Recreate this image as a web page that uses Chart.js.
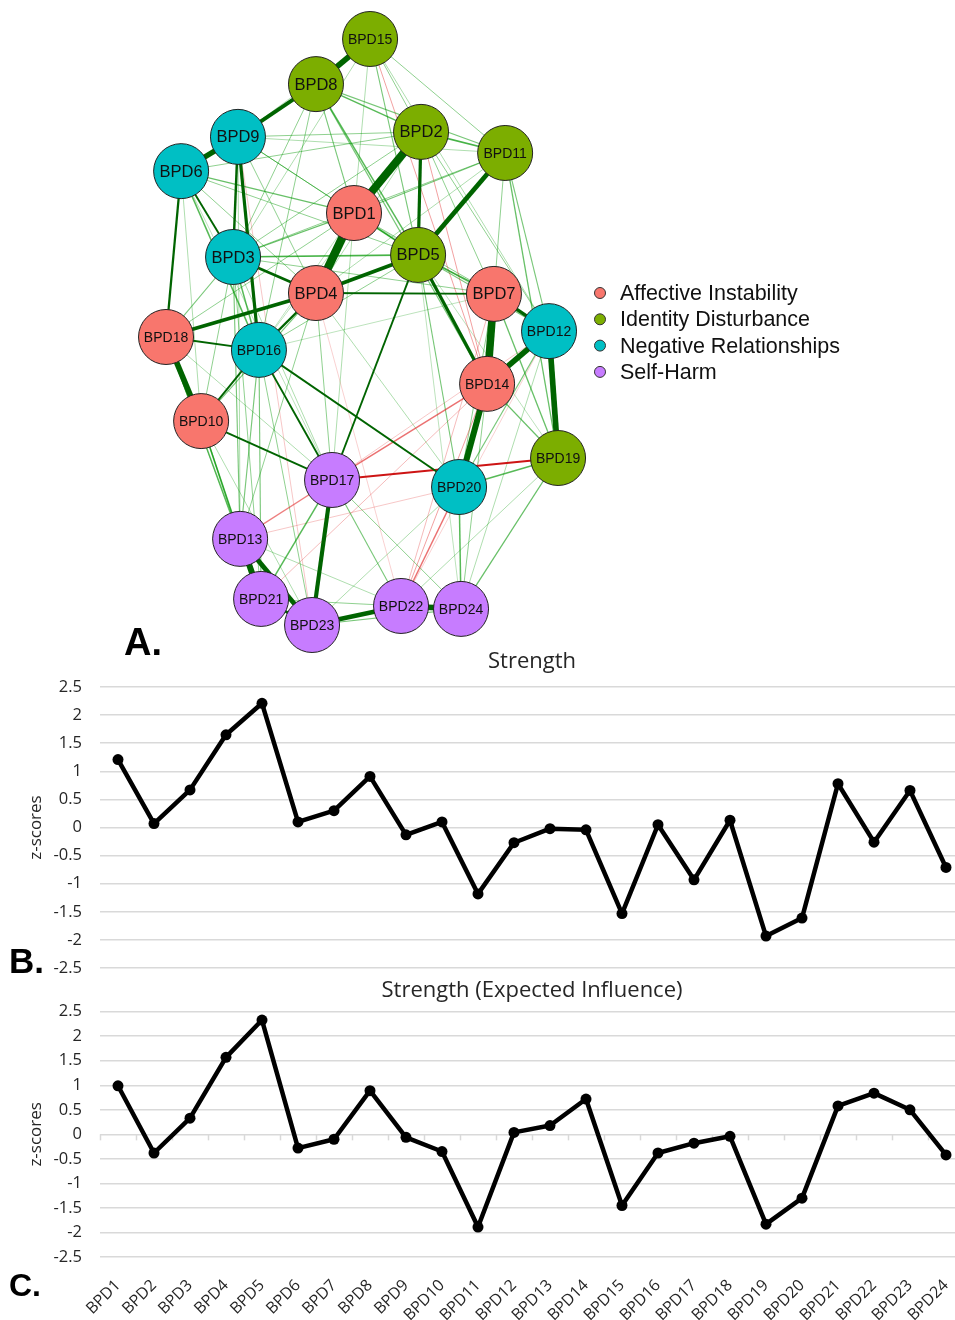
<!DOCTYPE html>
<html>
<head>
<meta charset="utf-8">
<script src="https://cdn.jsdelivr.net/npm/chart.js@4.4.1/dist/chart.umd.min.js"></script>
<style>
  html, body { margin: 0; padding: 0; background: #fff; overflow: hidden; }
  #page { position: relative; width: 955px; height: 1320px; overflow: hidden; background: #fff; }
  #page canvas { position: absolute; left: 0; }
  .panel { position: absolute; font-family: "Liberation Sans", Arial, sans-serif; font-weight: bold; color: #000; line-height: 1; }
</style>
</head>
<body>
<div id="page">
  <canvas id="strength" width="965" height="351" style="top:645px"></canvas>
  <canvas id="ei" width="965" height="345" style="top:975px"></canvas>
  <canvas id="net" width="955" height="660" style="top:0"></canvas>
  <div class="panel" style="left:124px;top:623px;font-size:38px">A.</div>
  <div class="panel" style="left:9px;top:943px;font-size:35px">B.</div>
  <div class="panel" style="left:9px;top:1269px;font-size:32px">C.</div>
</div>
<script>
// ---------- Symptom network ----------
const nodeNames = ['BPD1','BPD2','BPD3','BPD4','BPD5','BPD6','BPD7','BPD8','BPD9','BPD10','BPD11','BPD12',
                   'BPD13','BPD14','BPD15','BPD16','BPD17','BPD18','BPD19','BPD20','BPD21','BPD22','BPD23','BPD24'];
// 0 = Affective Instability, 1 = Identity Disturbance, 2 = Negative Relationships, 3 = Self-Harm
const nodeGroup = [0,1,2,0,1,2,0,1,2,0,1,2,3,0,1,2,3,0,1,2,3,3,3,3];
const groupNames = ['Affective Instability','Identity Disturbance','Negative Relationships','Self-Harm'];

// spring layout, normalised to [-1, 1]
const layoutX = [-0.041, 0.301,-0.658,-0.235, 0.286,-0.923, 0.673,-0.235,-0.633,-0.821, 0.730, 0.954,
                 -0.622, 0.638, 0.041,-0.526,-0.153,-1.000, 1.000, 0.495,-0.515, 0.199,-0.255, 0.505];
const layoutY = [ 0.406, 0.683, 0.256, 0.133, 0.263, 0.549, 0.130, 0.846, 0.666,-0.304, 0.611, 0.003,
                 -0.706,-0.177, 1.000,-0.061,-0.505,-0.017,-0.430,-0.529,-0.911,-0.935,-1.000,-0.945];

// partial-correlation edges: [node, node, weight] (node numbers as in the labels)
const edgeList = [
  [15,8,0.30],[8,9,0.20],[9,6,0.28],[2,1,0.42],[1,4,0.45],[2,5,0.17],[11,5,0.25],[5,4,0.20],
  [5,14,0.17],[7,14,0.40],[7,12,0.18],[12,14,0.30],[12,19,0.30],[14,20,0.32],[9,16,0.17],[9,3,0.13],
  [6,18,0.12],[18,4,0.20],[18,10,0.30],[18,16,0.10],[3,4,0.14],[4,16,0.12],[4,7,0.10],[3,5,0.09],
  [13,21,0.32],[13,23,0.25],[23,22,0.25],[22,24,0.30],[17,23,0.22],[17,5,0.10],[17,16,0.10],[17,10,0.10],
  [16,20,0.10],[20,24,0.08],[17,19,-0.10],[17,14,-0.08],[17,13,-0.07],[20,19,0.08],[22,20,-0.08],[22,14,-0.05],
  [15,14,-0.05],[9,23,-0.03],[14,21,-0.04],[12,17,-0.03],[7,22,-0.04],[2,14,-0.05],[21,23,0.15],
  [8,5,0.08],[8,1,0.06],[8,2,0.08],[8,11,0.06],[8,3,0.05],[8,16,0.05],[8,14,0.06],[15,5,0.06],
  [15,11,0.05],[15,1,0.04],[15,3,0.04],[15,12,0.04],[2,11,0.09],[2,6,0.05],[2,3,0.05],[2,12,0.05],
  [2,7,0.05],[2,9,0.05],[11,1,0.06],[11,3,0.05],[11,19,0.07],[11,12,0.06],[11,7,0.05],[11,4,0.04],
  [11,9,0.04],[6,1,0.07],[6,3,0.10],[6,16,0.08],[6,5,0.05],[6,4,0.05],[9,1,0.05],[9,4,0.05],
  [9,5,0.04],[1,5,0.09],[1,3,0.07],[1,7,0.05],[1,18,0.05],[1,17,0.04],[5,7,0.09],[5,12,0.06],
  [5,16,0.05],[5,20,0.06],[3,16,0.08],[3,18,0.06],[3,10,0.05],[3,13,0.06],[3,21,0.05],[3,7,0.05],
  [4,17,0.05],[4,13,0.05],[4,10,0.06],[4,20,0.04],[7,19,0.07],[7,20,0.05],[12,20,0.06],[14,19,0.07],
  [14,24,0.05],[16,10,0.10],[16,13,0.06],[16,21,0.06],[16,23,0.05],[18,13,0.07],[18,21,0.05],[10,13,0.08],
  [10,21,0.07],[17,21,0.08],[17,22,0.06],[17,24,0.05],[13,22,0.04],[21,22,0.05],[23,24,0.06],[20,23,0.04],
  [19,24,0.07],[19,22,0.04],[12,24,0.04],[6,10,0.04],[9,13,0.04],[15,2,0.05],[15,9,0.03],[6,8,0.04],
  [2,4,0.04],[2,16,0.03],[5,9,0.03],[5,24,0.03],[7,16,0.03],[12,1,0.03],[19,5,0.03],[6,17,0.03],
  [18,17,0.04],[10,23,0.04],[3,17,0.04],[1,16,0.03],[12,22,-0.02],[13,20,-0.03],[4,22,-0.02]
];

const groupColors = ['#F8766D','#7CAE00','#00BFC4','#C77CFF'];
const NET_FONT = "'Liberation Sans', Arial, sans-serif";

function edgeColour(w) {
  const a = Math.abs(w);
  if (a >= 0.1) return w > 0 ? 'rgb(0,100,0)' : 'rgb(205,20,20)';
  const alpha = Math.min(1, 0.14 + a * 6.5);
  return w > 0 ? `rgba(0,150,0,${alpha})` : `rgba(225,40,40,${alpha})`;
}
function edgeWidth(w) {
  return Math.max(0.8, Math.abs(w) / 0.45 * 8.5);
}

const nodePoints = nodeNames.map((_, i) => ({ x: layoutX[i], y: layoutY[i] }));
const sortedEdges = edgeList.slice().sort((a, b) => Math.abs(b[2]) - Math.abs(a[2]));
const edgeDatasets = sortedEdges.map((e, k) => ({
  data: [nodePoints[e[0] - 1], nodePoints[e[1] - 1]],
  showLine: true,
  borderColor: edgeColour(e[2]),
  borderWidth: edgeWidth(e[2]),
  pointRadius: 0,
  clip: false,
  order: k + 1
}));

const nodeDataset = {
  data: nodePoints,
  showLine: false,
  pointRadius: 27.5,
  pointHoverRadius: 27.5,
  pointBackgroundColor: nodeGroup.map(g => groupColors[g]),
  pointBorderColor: '#222',
  pointBorderWidth: 1,
  clip: false,
  order: 0
};

const nodeLabels = {
  id: 'nodeLabels',
  afterDatasetsDraw(chart) {
    const { ctx, scales: { x, y } } = chart;
    ctx.save();
    ctx.fillStyle = '#111';
    ctx.textAlign = 'center';
    ctx.textBaseline = 'middle';
    nodeNames.forEach((name, i) => {
      const size = name.length > 4 ? 14 : 16.5;
      ctx.font = `${size}px ${NET_FONT}`;
      ctx.fillText(name, x.getPixelForValue(layoutX[i]), y.getPixelForValue(layoutY[i]) + 1);
    });
    ctx.restore();
  }
};

const groupLegend = {
  id: 'groupLegend',
  afterDraw(chart) {
    const { ctx } = chart;
    ctx.save();
    ctx.textBaseline = 'middle';
    ctx.font = `21.5px ${NET_FONT}`;
    groupNames.forEach((name, g) => {
      const cy = 293 + g * 26.3;
      ctx.beginPath();
      ctx.arc(600, cy, 5.5, 0, Math.PI * 2);
      ctx.fillStyle = groupColors[g];
      ctx.fill();
      ctx.lineWidth = 1;
      ctx.strokeStyle = '#333';
      ctx.stroke();
      ctx.fillStyle = '#111';
      ctx.fillText(name, 620, cy + 1);
    });
    ctx.restore();
  }
};

new Chart(document.getElementById('net'), {
  type: 'scatter',
  data: { datasets: [nodeDataset, ...edgeDatasets] },
  options: {
    responsive: false,
    animation: false,
    devicePixelRatio: 1,
    events: [],
    layout: { padding: 0, autoPadding: false },
    scales: {
      x: { type: 'linear', display: false, min: -1.847, max: 3.025 },
      y: { type: 'linear', display: false, min: -1.1194, max: 1.1331 }
    },
    plugins: { legend: { display: false }, tooltip: { enabled: false } }
  },
  plugins: [nodeLabels, groupLegend]
});

// ---------- Centrality z-scores ----------
const itemLabels = nodeNames;
const strengthZ = [1.21, 0.07, 0.67, 1.65, 2.21, 0.10, 0.30, 0.91, -0.13, 0.10, -1.18, -0.27,
                   -0.02, -0.04, -1.53, 0.05, -0.93, 0.13, -1.93, -1.61, 0.78, -0.26, 0.66, -0.71];
const expectedInfluenceZ = [0.99, -0.38, 0.33, 1.57, 2.33, -0.28, -0.10, 0.89, -0.06, -0.35, -1.89, 0.04,
                            0.18, 0.72, -1.45, -0.38, -0.18, -0.04, -1.83, -1.30, 0.58, 0.84, 0.50, -0.42];
const zTicks = [2.5, 2, 1.5, 1, 0.5, 0, -0.5, -1, -1.5, -2, -2.5];

const CHART_FONT = "'Open Sans', sans-serif";
const TEXT = '#262626';
const GRID = '#d9d9d9';

// small category tick marks hanging below the zero line
const zeroLineTicks = {
  id: 'zeroLineTicks',
  beforeDatasetsDraw(chart) {
    const { ctx, scales: { x, y } } = chart;
    const y0 = y.getPixelForValue(0);
    ctx.save();
    ctx.strokeStyle = GRID;
    ctx.lineWidth = 1.5;
    for (let i = 0; i <= chart.data.labels.length; i++) {
      const px = Math.round(x.getPixelForValue(i - 0.5)) + 0.5;
      ctx.beginPath();
      ctx.moveTo(px, y0);
      ctx.lineTo(px, y0 + 6);
      ctx.stroke();
    }
    ctx.restore();
  }
};

function zChart(id, title, values, showX, titlePad) {
  return new Chart(document.getElementById(id), {
    type: 'line',
    data: {
      labels: itemLabels,
      datasets: [{
        data: values,
        borderColor: '#000',
        backgroundColor: '#000',
        borderWidth: 4.5,
        borderJoinStyle: 'round',
        tension: 0,
        pointRadius: 5.5,
        pointBackgroundColor: '#000',
        pointBorderWidth: 0,
        clip: false
      }]
    },
    options: {
      responsive: false,
      animation: false,
      devicePixelRatio: 1,
      events: [],
      layout: { padding: { left: 0, right: 1, top: 0, bottom: showX ? 0 : 12 }, autoPadding: false },
      plugins: {
        legend: { display: false },
        tooltip: { enabled: false },
        title: {
          display: true,
          text: title,
          fullSize: false,
          color: TEXT,
          font: { family: CHART_FONT, size: 22, weight: 'normal', lineHeight: 1.2 },
          padding: titlePad
        }
      },
      scales: {
        x: {
          type: 'category',
          offset: true,
          display: showX,
          grid: { display: false },
          border: { display: false },
          ticks: {
            autoSkip: false,
            minRotation: 45,
            maxRotation: 45,
            padding: 11,
            color: TEXT,
            font: { family: CHART_FONT, size: 16 }
          },
          afterFit(scale) {
            if (showX) {
              scale.height = 63;
              scale.paddingLeft = 0;
              scale.paddingRight = 0;
            }
          }
        },
        y: {
          min: -2.5,
          max: 2.5,
          afterBuildTicks(scale) { scale.ticks = zTicks.map(v => ({ value: v })); },
          grid: { color: GRID, lineWidth: 1.5, drawTicks: false },
          border: { display: false },
          ticks: {
            autoSkip: false,
            padding: 18,
            color: TEXT,
            font: { family: CHART_FONT, size: 16.5 },
            callback: v => String(v)
          },
          title: {
            display: true,
            text: 'z-scores',
            color: TEXT,
            font: { family: CHART_FONT, size: 17 },
            padding: { top: 26, bottom: 0 }
          },
          afterFit(scale) { scale.width = 100; }
        }
      }
    },
    plugins: showX ? [zeroLineTicks] : []
  });
}

zChart('strength', 'Strength', strengthZ, false, { top: 4, bottom: 11.6 });
zChart('ei', 'Strength (Expected Influence)', expectedInfluenceZ, true, { top: 2.8, bottom: 7.5 });
</script>
</body>
</html>
